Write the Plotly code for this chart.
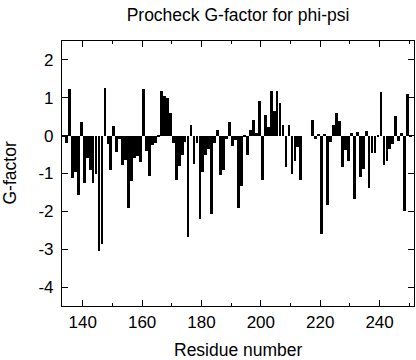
import plotly.graph_objects as go

# Residue numbers (214-216 have no data)
residues = list(range(133, 214)) + list(range(217, 251))

g_factor = [
    -0.03, -0.20, 1.23, -1.12, -0.95, -1.57, 0.37, -1.24, -0.60, -0.91,   # 133-142
    -1.26, -1.00, -3.04, -2.86, 1.25, -0.22, -0.91, 0.26, -0.42, -0.08,   # 143-152
    -0.77, -0.64, -1.90, -1.20, -0.60, -0.55, -0.70, 1.23, -0.40, -1.07,  # 153-162
    -0.26, -0.20, -0.03, 1.18, 1.04, 1.00, 0.60, -0.20, -1.18, -0.80,     # 163-172
    -0.50, -0.16, -2.67, 0.28, -0.75, -0.20, -2.20, -0.95, -0.50, -0.35,  # 173-182
    -2.07, -0.20, 0.14, -1.04, -0.90, -0.08, 0.35, -0.28, -0.12, -1.92,   # 183-192
    -1.34, -0.03, -0.51, 0.15, 0.42, 0.06, 0.92, -1.18, 0.54, 0.24,       # 193-202
    1.18, 0.65, 1.17, 0.86, 0.27, -0.82, 0.27, -1.00, -0.68, -0.30,       # 203-212
    -1.16,                                                                # 213
    0.42, -0.09, 0.03, -2.59, 0.03, -1.84, -0.18, 0.29, 0.60, 0.40,       # 217-226
    -0.84, -0.38, -0.66, 0.06, -1.68, 0.10, -1.09, -0.87, 0.12, -1.38,    # 227-236
    -0.47, -0.47, -0.03, 1.15, -0.78, -0.67, -0.36, -0.22, 0.52, -0.15,   # 237-246
    0.08, -1.98, 1.10, -0.03,                                             # 247-250
]

x_tick_vals = [140, 160, 180, 200, 220, 240]
x_tick_text = ["140", "160", "180", "200", "220", "240"]
y_tick_vals = [-4, -3, -2, -1, 0, 1, 2]
y_tick_text = ["-4", "-3", "-2", "-1", "0", "1", "2"]

title_text = "Procheck G-factor for phi-psi"
x_title = "Residue number"
y_title = "G-factor"
x_range = [133, 251.6]
y_range = [-4.5, 2.5]

FONT = "Liberation Sans, Arial, Helvetica, sans-serif"

fig = go.Figure(
    go.Bar(
        x=residues,
        y=g_factor,
        width=0.94,
        offset=0.0,
        marker=dict(color="black", line=dict(width=0)),
    )
)

fig.update_layout(
    width=416,
    height=360,
    margin=dict(l=62, r=2, t=41, b=54, autoexpand=False),
    paper_bgcolor="white",
    plot_bgcolor="white",
    showlegend=False,
    font=dict(family=FONT, size=17, color="black"),
    title=dict(
        text=title_text,
        x=0.5,
        xref="paper",
        y=1 - 15 / 360,
        yref="container",
        yanchor="middle",
        xanchor="center",
        font=dict(family=FONT, size=17.5, color="black"),
    ),
    bargap=0,
)

fig.update_xaxes(
    automargin=False,
    range=x_range,
    tickmode="array",
    tickvals=x_tick_vals,
    ticktext=x_tick_text,
    ticks="inside",
    ticklen=6,
    tickwidth=1,
    tickcolor="black",
    minor=dict(dtick=10, tick0=0, ticks="inside", ticklen=3, tickwidth=1, tickcolor="black"),
    showline=True,
    linecolor="black",
    linewidth=1.2,
    mirror="ticks",
    showgrid=False,
    zeroline=False,
    tickfont=dict(family=FONT, size=17),
)

fig.update_yaxes(
    automargin=False,
    range=y_range,
    tickmode="array",
    tickvals=y_tick_vals,
    ticktext=y_tick_text,
    ticks="inside",
    ticklen=6,
    tickwidth=1,
    tickcolor="black",
    showline=True,
    linecolor="black",
    linewidth=1.2,
    mirror="ticks",
    showgrid=False,
    zeroline=False,
    tickfont=dict(family=FONT, size=17),
    ticklabelstandoff=4,
)

fig.add_annotation(
    text=x_title, xref="paper", yref="paper",
    x=0.5, y=-(350 - 305.6) / 264.6, xanchor="center", yanchor="middle",
    showarrow=False, font=dict(family=FONT, size=17.5, color="black"),
)
fig.add_annotation(
    text=y_title, xref="paper", yref="paper",
    x=(9 - 62) / 352, y=0.5, xanchor="center", yanchor="middle",
    textangle=-90, showarrow=False, font=dict(family=FONT, size=17.5, color="black"),
)

fig.write_html(
    "out.html",
    config={"displayModeBar": False},
    post_script="document.body.style.margin='0';document.body.style.overflow='hidden';",
)
